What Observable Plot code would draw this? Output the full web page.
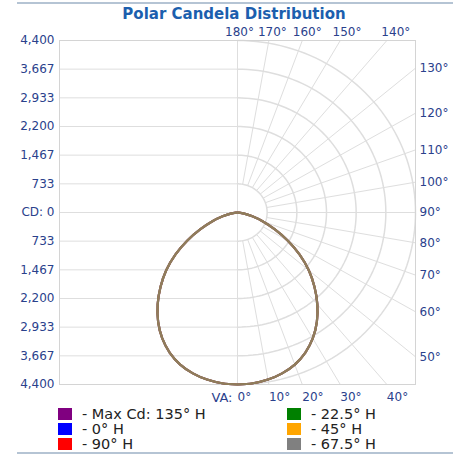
<!DOCTYPE html>
<html><head><meta charset="utf-8">
<script src="https://cdn.jsdelivr.net/npm/d3@7"></script>
<script src="https://cdn.jsdelivr.net/npm/@observablehq/plot@0.6"></script>
<style>
body{margin:0;background:#fff;font-family:"DejaVu Sans",Verdana,sans-serif;}
#wrap{position:relative;width:458px;height:459px;overflow:hidden;}
.rule{position:absolute;left:17px;width:436px;height:2px;background:#b5c4d4;}
#title{position:absolute;left:0;top:5px;width:468px;text-align:center;font-weight:bold;font-size:15px;color:#1c5fae;}
#chart{position:absolute;left:0;top:24px;}
.leg{position:absolute;font-size:14.5px;color:#222;white-space:nowrap;line-height:15px;height:15px;}
.sw{display:inline-block;width:14px;height:12px;vertical-align:-1px;margin-right:10px;}
</style>
</head><body>
<div id="wrap">
  <div class="rule" style="top:2px"></div>
  <div id="title">Polar Candela Distribution</div>
  <div id="chart"></div>
  <div class="rule" style="top:452px"></div>
</div>
<script>
// ---- data ----
const vaAngles = [0,5,10,15,20,25,30,35,40,45,50,55,60,65,70,75,80,85,90];
const candela  = [4400,4385,4340,4260,4140,3960,3720,3420,3070,2690,2300,1870,1430,1010,670,380,170,40,0];
const seriesNames  = ["Max Cd: 135° H","0° H","90° H","22.5° H","45° H","67.5° H"];
const seriesColors = ["#800080","#0000ff","#ff0000","#008000","#ffa500","#808080"];
const seriesOpacity = [0.5,0.5,0.5,0.5,0.5,0.65];
const yTickValues = [-4400,-3667,-2933,-2200,-1467,-733,0,733,1467,2200,2933,3667,4400];
const yTickLabels = ["4,400","3,667","2,933","2,200","1,467","733","CD: 0","733","1,467","2,200","2,933","3,667","4,400"];
const ringValues = [733,1467,2200,2933,3667,4400];
const gridAngles = [0,10,20,30,40,50,60,70,80,90,100,110,120,130,140,150,160,170,180];
const RMAX = 4400;

const rad = a => a*Math.PI/180;
// rings (right half)
const ringPts = [];
for (const r of ringValues) for (let a=0; a<=180; a+=2) ringPts.push({r, x:r*Math.sin(rad(a)), y:r*Math.cos(rad(a))});
// radial lines from first ring to frame edge
const rays = gridAngles.filter(a => a>0 && a<180).map(a => {
  const s=Math.sin(rad(a)), c=Math.cos(rad(a));
  const t=Math.min(RMAX/s, Math.abs(c)>1e-9 ? RMAX/Math.abs(c) : Infinity);
  return {a, x1:ringValues[0]*s, y1:ringValues[0]*c, x2:t*s, y2:t*c, edge: (Math.abs(c)>1e-9 && RMAX/Math.abs(c) < RMAX/s) ? (c>0?"bottom":"top") : "right"};
});
const bottomLabels = [{a:0, x:0}].concat(rays.filter(d=>d.edge==="bottom").map(d=>({a:d.a, x:d.x2})));
const topLabels = [{a:180, x:0}].concat(rays.filter(d=>d.edge==="top").map(d=>({a:d.a, x:4605*Math.tan(Math.PI-rad(d.a))})));
const rightLabels = rays.filter(d=>d.edge==="right").map(d=>({a:d.a, y:d.y2}));

// curves: all horizontal planes coincide; each plane drawn on both sides (H and H+180)
function planeCurve(i){
  const pts = [];
  vaAngles.forEach((va,j) => pts.push({x:-candela[j]*Math.sin(rad(va)), y:candela[j]*Math.cos(rad(va))}));
  for (let j=vaAngles.length-2; j>=0; j--) pts.push({x:candela[j]*Math.sin(rad(vaAngles[j])), y:candela[j]*Math.cos(rad(vaAngles[j]))});
  return pts;
}

const font = "DejaVu Sans, Verdana, sans-serif";
const lab = "#2a418c";
const grid = "#dedede";

const chart = Plot.plot({
  width:458, height:384,
  marginLeft:59, marginRight:43, marginTop:16, marginBottom:24,
  x:{domain:[-RMAX,RMAX], axis:null},
  y:{domain:[-RMAX,RMAX], reverse:true, axis:null},
  style:{fontFamily:font, background:"transparent"},
  marks:[
    Plot.ruleY(yTickValues, {x1:-RMAX, x2:0, stroke:grid}),
    Plot.line(ringPts, {x:"x", y:"y", z:"r", stroke:grid, curve:"linear"}),
    Plot.link(rays, {x1:"x1", y1:"y1", x2:"x2", y2:"y2", stroke:grid}),
    Plot.ruleX([0], {y1:-RMAX, y2:RMAX, stroke:grid}),
    Plot.frame({stroke:"#d4d4d4"}),
    ...seriesNames.map((name,i) => Plot.line(planeCurve(i), {x:"x", y:"y", stroke:seriesColors[i], strokeWidth:2.2, strokeOpacity:seriesOpacity[i], curve:"catmull-rom"})),
    Plot.text(yTickValues, {x:-RMAX, y:d=>d, text:(d,i)=>yTickLabels[i], dx:-5, textAnchor:"end", fill:lab, fontSize:12}),
    Plot.text(bottomLabels, {x:"x", y:4733, text:d=>d.a+"°", textAnchor:"start", fill:lab, fontSize:12}),
    Plot.text([0], {x:0, y:4733, text:()=>"VA:", textAnchor:"end", dx:-5, fill:lab, fontSize:13}),
    Plot.text(topLabels, {x:"x", y:-4605, text:d=>d.a+"°", textAnchor:"middle", dx:2, fill:lab, fontSize:12}),
    Plot.text(rightLabels, {x:RMAX, y:"y", text:d=>d.a+"°", textAnchor:"start", dx:4, fill:lab, fontSize:12})
  ]
});
document.getElementById("chart").appendChild(chart);

// legend
const wrap = document.getElementById("wrap");
seriesNames.forEach((name,i) => {
  const col = Math.floor(i/3), row = i%3;
  const d = document.createElement("div");
  d.className = "leg";
  d.style.left = (col ? 287 : 58) + "px";
  d.style.top = (407 + row*15) + "px";
  d.innerHTML = `<span class="sw" style="background:${seriesColors[i]}"></span>- ${name}`;
  wrap.appendChild(d);
});
</script>
</body></html>
